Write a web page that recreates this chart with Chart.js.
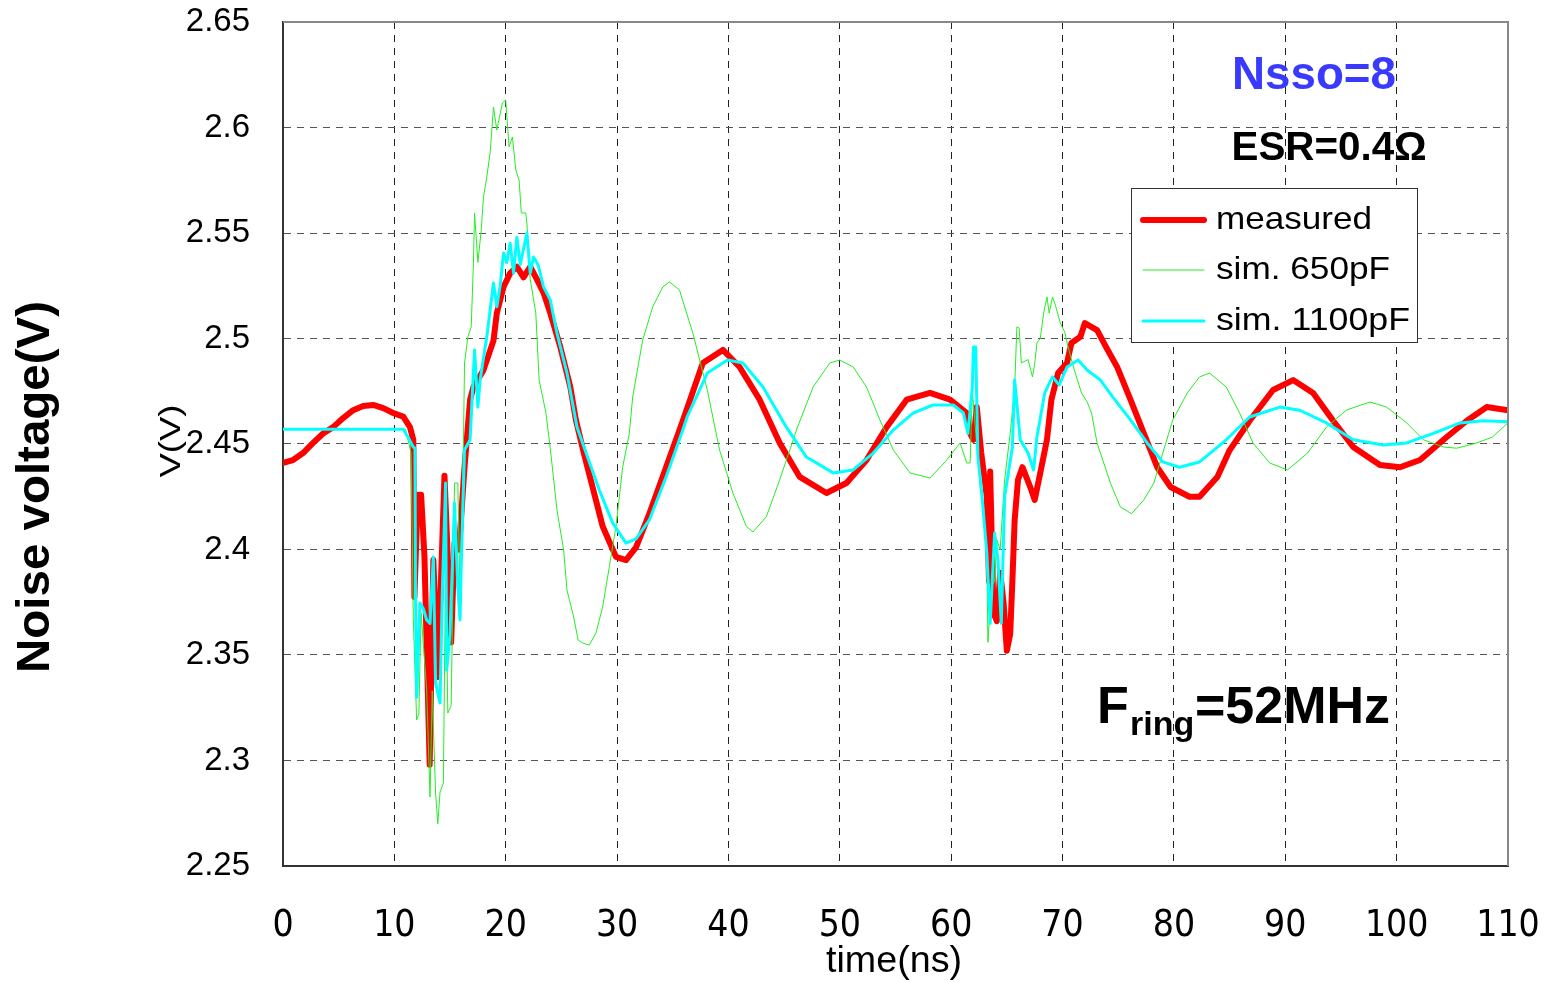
<!DOCTYPE html>
<html>
<head>
<meta charset="utf-8">
<script src="https://cdn.jsdelivr.net/npm/chart.js@4"></script>
<style>
  html, body { margin: 0; padding: 0; background: #fff; }
  #wrap { width: 1544px; height: 982px; }
</style>
</head>
<body>
<div id="wrap"><canvas id="noiseChart" width="1544" height="982"></canvas></div>
<script>
// Axis ticks
const timeTicks = [0, 10, 20, 30, 40, 50, 60, 70, 80, 90, 100, 110];
const voltTicks = [2.25, 2.3, 2.35, 2.4, 2.45, 2.5, 2.55, 2.6, 2.65];

// measured waveform (ns, V)
const measuredT = [0, 0.9, 1.8, 2.7, 3.6, 4.5, 5.4, 6.3, 7.2, 8.1, 9.0, 9.9, 10.8, 11.4, 11.7, 11.8, 12.1, 12.4, 12.7, 13.17, 13.5, 13.9, 14.5, 15.1, 15.4, 15.8, 16.3, 16.8, 17.1, 18.0, 18.9, 19.2, 19.8, 20.4, 21.0, 21.6, 22.2, 22.8, 23.4, 24.0, 24.9, 25.8, 26.3, 27.0, 28.7, 29.9, 30.8, 31.7, 32.9, 34.4, 35.9, 37.7, 39.5, 41.0, 42.8, 44.6, 46.4, 48.8, 50.6, 52.4, 54.2, 56.0, 58.1, 59.9, 61.4, 61.7, 62.0, 62.3, 62.7, 63.2, 63.4, 63.5, 63.8, 64.1, 64.4, 64.7, 65.0, 65.3, 65.5, 65.7, 66.0, 66.4, 67.1, 67.5, 68.0, 68.6, 69.0, 69.6, 70.4, 70.8, 71.6, 72.0, 73.1, 73.9, 74.9, 76.1, 77.3, 78.5, 79.7, 81.4, 82.3, 83.9, 85.0, 86.8, 88.9, 90.7, 92.5, 94.3, 96.1, 98.5, 100.3, 102.1, 104.5, 106.3, 108.1, 110];
const measuredV = [2.441, 2.4424, 2.4457, 2.4505, 2.455, 2.458, 2.4623, 2.466, 2.468, 2.4685, 2.467, 2.4647, 2.463, 2.458, 2.452, 2.3775, 2.426, 2.426, 2.397, 2.298, 2.395, 2.3396, 2.435, 2.356, 2.403, 2.40, 2.439, 2.471, 2.477, 2.485, 2.499, 2.512, 2.5244, 2.531, 2.534, 2.529, 2.534, 2.528, 2.5216, 2.512, 2.496, 2.477, 2.4614, 2.446, 2.411, 2.3965, 2.395, 2.401, 2.417, 2.439, 2.461, 2.4884, 2.4946, 2.4865, 2.471, 2.4505, 2.4344, 2.4268, 2.4315, 2.4424, 2.458, 2.471, 2.4742, 2.471, 2.4647, 2.455, 2.452, 2.4675, 2.4457, 2.425, 2.385, 2.437, 2.370, 2.366, 2.389, 2.375, 2.352, 2.360, 2.3856, 2.414, 2.433, 2.439, 2.4296, 2.4235, 2.4363, 2.452, 2.471, 2.4836, 2.4884, 2.4979, 2.5008, 2.5073, 2.504, 2.496, 2.4865, 2.471, 2.455, 2.439, 2.4296, 2.425, 2.425, 2.4344, 2.447, 2.461, 2.4756, 2.4803, 2.4742, 2.461, 2.4486, 2.44, 2.439, 2.4424, 2.4533, 2.461, 2.4675, 2.466];

// simulation, C = 650pF
const sim650T = [0, 11.0, 11.5, 11.7, 12.0, 12.2, 12.4, 12.9, 13.2, 13.4, 13.7, 13.9, 14.1, 14.4, 14.6, 14.8, 15.1, 15.4, 15.7, 15.9, 16.2, 16.3, 16.6, 16.9, 17.1, 17.2, 17.5, 17.8, 18.0, 18.3, 18.6, 18.9, 19.2, 19.7, 20.0, 20.3, 20.6, 20.9, 21.2, 21.4, 21.8, 21.9, 22.2, 22.7, 23.0, 23.6, 24.0, 24.6, 25.2, 25.5, 26.1, 26.5, 26.9, 27.5, 28.1, 28.7, 29.3, 29.9, 30.5, 31.1, 31.4, 32.3, 33.2, 34.1, 34.7, 35.6, 36.8, 38.1, 39.2, 40.4, 41.6, 42.2, 43.4, 44.6, 46.2, 47.6, 49.1, 50.0, 51.2, 52.4, 53.6, 54.8, 56.3, 58.1, 59.6, 60.8, 61.4, 61.7, 61.9, 62.1, 62.6, 62.9, 63.2, 63.3, 63.6, 63.9, 64.1, 64.4, 64.8, 65.3, 65.7, 65.9, 66.1, 66.3, 66.9, 67.3, 67.5, 67.7, 68.0, 68.3, 68.6, 68.8, 69.1, 69.4, 69.8, 70.2, 70.5, 71.0, 71.7, 72.2, 72.6, 73.1, 73.7, 74.3, 75.2, 76.2, 77.3, 78.2, 79.0, 79.9, 81.2, 82.3, 83.2, 84.7, 85.9, 87.1, 88.6, 90.2, 92.0, 93.7, 95.5, 97.6, 99.1, 100.9, 102.4, 104.2, 105.4, 107.2, 108.6, 110];
const sim650V = [2.457, 2.457, 2.4457, 2.368, 2.3192, 2.322, 2.37, 2.3334, 2.2827, 2.333, 2.2846, 2.270, 2.285, 2.2893, 2.3917, 2.3225, 2.326, 2.4315, 2.4315, 2.376, 2.4486, 2.4884, 2.5008, 2.5055, 2.5358, 2.5595, 2.536, 2.5514, 2.567, 2.5765, 2.588, 2.6097, 2.5988, 2.6116, 2.613, 2.5908, 2.5955, 2.5799, 2.5751, 2.5595, 2.5595, 2.5547, 2.528, 2.5121, 2.4803, 2.465, 2.448, 2.4187, 2.3998, 2.3808, 2.368, 2.3571, 2.3557, 2.3547, 2.3604, 2.3727, 2.3917, 2.411, 2.439, 2.455, 2.4723, 2.4993, 2.515, 2.5244, 2.5268, 2.523, 2.5026, 2.4756, 2.4472, 2.4268, 2.411, 2.4083, 2.4155, 2.433, 2.458, 2.477, 2.4884, 2.4898, 2.4865, 2.477, 2.4614, 2.4472, 2.4363, 2.4339, 2.4424, 2.4505, 2.441, 2.441, 2.4756, 2.462, 2.4296, 2.4187, 2.3983, 2.356, 2.382, 2.385, 2.4045, 2.40, 2.433, 2.455, 2.477, 2.5055, 2.505, 2.4884, 2.49, 2.4818, 2.488, 2.4979, 2.50, 2.512, 2.5197, 2.512, 2.5197, 2.515, 2.5073, 2.503, 2.496, 2.486, 2.4742, 2.47, 2.4647, 2.4505, 2.441, 2.4315, 2.4201, 2.417, 2.4235, 2.4315, 2.4457, 2.4614, 2.4742, 2.4818, 2.4836, 2.477, 2.4647, 2.4505, 2.441, 2.4377, 2.4457, 2.458, 2.4661, 2.4699, 2.4675, 2.46, 2.452, 2.4486, 2.448, 2.4505, 2.4533, 2.46];

// simulation, C = 1100pF
const sim1100T = [0, 10.8, 11.3, 11.7, 11.85, 11.9, 12.0, 12.3, 12.6, 12.9, 13.2, 13.5, 13.7, 14.1, 14.3, 14.6, 14.7, 15.0, 15.4, 15.7, 15.9, 16.0, 16.3, 16.8, 17.2, 17.5, 17.7, 18.3, 18.9, 19.2, 19.5, 19.8, 20.1, 20.4, 20.7, 21.0, 21.3, 21.9, 22.2, 22.5, 22.9, 23.4, 24.0, 24.6, 25.5, 26.4, 26.9, 27.6, 28.4, 29.6, 30.8, 31.7, 32.9, 34.4, 35.9, 36.3, 38.1, 39.9, 41.3, 43.1, 45.2, 47.0, 49.4, 51.2, 53.0, 54.8, 56.6, 58.4, 60.2, 61.1, 61.5, 61.9, 62.0, 62.2, 62.4, 62.7, 63.2, 63.5, 63.9, 64.2, 64.5, 64.8, 65.5, 65.7, 66.2, 66.9, 67.4, 67.7, 68.4, 69.1, 69.7, 70.4, 71.4, 72.2, 73.4, 74.5, 76.1, 77.6, 79.0, 80.5, 82.3, 84.7, 86.8, 89.5, 91.3, 93.7, 96.1, 98.8, 100.9, 103.3, 105.7, 107.8, 110];
const sim1100V = [2.457, 2.457, 2.4525, 2.4486, 2.448, 2.3775, 2.33, 2.3746, 2.372, 2.3666, 2.365, 2.3965, 2.3368, 2.3273, 2.379, 2.4315, 2.3429, 2.3604, 2.422, 2.3822, 2.3666, 2.3917, 2.4472, 2.452, 2.4946, 2.4675, 2.4803, 2.5008, 2.5263, 2.515, 2.525, 2.5405, 2.536, 2.5452, 2.531, 2.548, 2.535, 2.55, 2.531, 2.5386, 2.535, 2.5244, 2.5183, 2.5026, 2.4836, 2.458, 2.4505, 2.44, 2.4282, 2.4126, 2.403, 2.405, 2.414, 2.4344, 2.4566, 2.463, 2.4836, 2.4898, 2.4884, 2.477, 2.458, 2.4438, 2.4363, 2.4377, 2.4457, 2.4566, 2.4647, 2.4685, 2.4685, 2.4647, 2.455, 2.477, 2.496, 2.496, 2.4438, 2.4296, 2.3983, 2.365, 2.4078, 2.395, 2.365, 2.425, 2.4486, 2.4803, 2.452, 2.4457, 2.4377, 2.4533, 2.4742, 2.4818, 2.478, 2.4865, 2.4898, 2.4851, 2.4803, 2.4723, 2.4614, 2.4505, 2.4415, 2.439, 2.4415, 2.452, 2.4628, 2.4675, 2.466, 2.46, 2.452, 2.4495, 2.4505, 2.455, 2.46, 2.461, 2.4605];

function toPoints(ts, vs) {
    return ts.map((t, i) => ({ x: t, y: vs[i] }));
}

// draw text squeezed/stretched to a given length, centred on (x, y)
function fitText(ctx, text, x, y, len, font, color, angle) {
    ctx.save();
    ctx.font = font;
    ctx.fillStyle = color;
    ctx.textAlign = 'center';
    ctx.textBaseline = 'middle';
    ctx.translate(x, y);
    if (angle) ctx.rotate(angle);
    const w = ctx.measureText(text).width;
    ctx.scale(len / w, 1);
    ctx.fillText(text, 0, 0);
    ctx.restore();
}

// frame, legend box and annotations
const decorations = {
    id: 'decorations',
    afterDatasetsDraw(chart) {
        const ctx = chart.ctx;
        const a = chart.chartArea;

        // top and right frame
        ctx.save();
        ctx.strokeStyle = '#888';
        ctx.lineWidth = 2;
        ctx.beginPath();
        ctx.moveTo(a.left, a.top);
        ctx.lineTo(a.right, a.top);
        ctx.lineTo(a.right, a.bottom);
        ctx.stroke();
        ctx.restore();

        // legend
        const lx = 1131, ly = 188, lw = 286, lh = 154;
        ctx.save();
        ctx.fillStyle = '#fff';
        ctx.fillRect(lx, ly, lw, lh);
        ctx.strokeStyle = '#333';
        ctx.lineWidth = 1;
        ctx.strokeRect(lx + 0.5, ly + 0.5, lw, lh);
        const rows = [220, 270, 321];
        const widths = [156, 174, 194];
        chart.data.datasets.forEach((ds, i) => {
            ctx.strokeStyle = ds.borderColor;
            ctx.lineWidth = ds.borderWidth;
            ctx.lineCap = 'round';
            ctx.beginPath();
            ctx.moveTo(1143, rows[i]);
            ctx.lineTo(1204, rows[i]);
            ctx.stroke();
            ctx.save();
            ctx.font = '32px "Liberation Sans", Arial, sans-serif';
            ctx.fillStyle = '#000';
            ctx.textBaseline = 'middle';
            ctx.translate(1216, rows[i]);
            ctx.scale(widths[i] / ctx.measureText(ds.label).width, 1);
            ctx.fillText(ds.label, 0, 0);
            ctx.restore();
        });
        ctx.restore();

        // annotations
        fitText(ctx, 'Nsso=8', 1314, 76, 164, 'bold 46px "Liberation Sans", Arial, sans-serif', '#3a3aff');
        fitText(ctx, 'ESR=0.4Ω', 1329, 149, 195, 'bold 40px "Liberation Sans", Arial, sans-serif', '#000');

        ctx.save();
        ctx.fillStyle = '#000';
        ctx.textBaseline = 'alphabetic';
        ctx.textAlign = 'left';
        ctx.font = 'bold 52px "Liberation Sans", Arial, sans-serif';
        ctx.fillText('F', 1097, 723);
        ctx.font = 'bold 34px "Liberation Sans", Arial, sans-serif';
        ctx.fillText('ring', 1130, 735);
        ctx.font = 'bold 52px "Liberation Sans", Arial, sans-serif';
        ctx.fillText('=52MHz', 1195, 723);
        ctx.restore();

        // axis titles
        fitText(ctx, 'Noise voltage(V)', 36, 487, 372, 'bold 46px "Liberation Sans", Arial, sans-serif', '#000', -Math.PI / 2);
        fitText(ctx, 'V(V)', 172, 441, 73, '30px "Liberation Sans", Arial, sans-serif', '#000', -Math.PI / 2);
        fitText(ctx, 'time(ns)', 894, 962, 136, '36px "Liberation Sans", Arial, sans-serif', '#000');
    }
};

new Chart(document.getElementById('noiseChart'), {
    type: 'line',
    data: {
        datasets: [
            {
                label: 'measured',
                data: toPoints(measuredT, measuredV),
                borderColor: '#ff0000',
                borderWidth: 6,
                order: 3
            },
            {
                label: 'sim. 650pF',
                data: toPoints(sim650T, sim650V),
                borderColor: '#22ee22',
                borderWidth: 1,
                order: 2
            },
            {
                label: 'sim. 1100pF',
                data: toPoints(sim1100T, sim1100V),
                borderColor: '#00ffff',
                borderWidth: 3,
                order: 1
            }
        ]
    },
    options: {
        responsive: false,
        animation: false,
        elements: {
            point: { radius: 0 },
            line: { tension: 0, borderJoinStyle: 'round', borderCapStyle: 'round' }
        },
        layout: { padding: { top: 22, right: 36, left: 0, bottom: 0 } },
        plugins: {
            legend: { display: false },
            tooltip: { enabled: false }
        },
        scales: {
            x: {
                type: 'linear',
                min: timeTicks[0],
                max: timeTicks[timeTicks.length - 1],
                afterBuildTicks: (scale) => { scale.ticks = timeTicks.map(v => ({ value: v })); },
                afterFit: (scale) => {
                    scale.height = 116;
                    scale.paddingLeft = 0;
                    scale.paddingRight = 0;
                },
                ticks: {
                    color: '#000',
                    padding: 38,
                    maxRotation: 0,
                    font: { family: '"Liberation Sans Narrow", "DejaVu Sans Condensed", sans-serif', size: 37 }
                },
                grid: { color: '#222', lineWidth: 1, drawTicks: false },
                border: { display: true, color: '#333', width: 2, dash: [7, 6] }
            },
            y: {
                type: 'linear',
                min: voltTicks[0],
                max: voltTicks[voltTicks.length - 1],
                afterBuildTicks: (scale) => { scale.ticks = voltTicks.map(v => ({ value: v })); },
                afterFit: (scale) => {
                    scale.width = 283;
                    scale.paddingTop = 0;
                    scale.paddingBottom = 0;
                },
                ticks: {
                    color: '#000',
                    padding: 33,
                    font: { family: '"Liberation Sans", Arial, sans-serif', size: 33 },
                    callback: (v) => String(Math.round(v * 100) / 100)
                },
                grid: { color: '#555', lineWidth: 1, drawTicks: false },
                border: { display: true, color: '#333', width: 2, dash: [7, 6] }
            }
        }
    },
    plugins: [decorations]
});
</script>
</body>
</html>
